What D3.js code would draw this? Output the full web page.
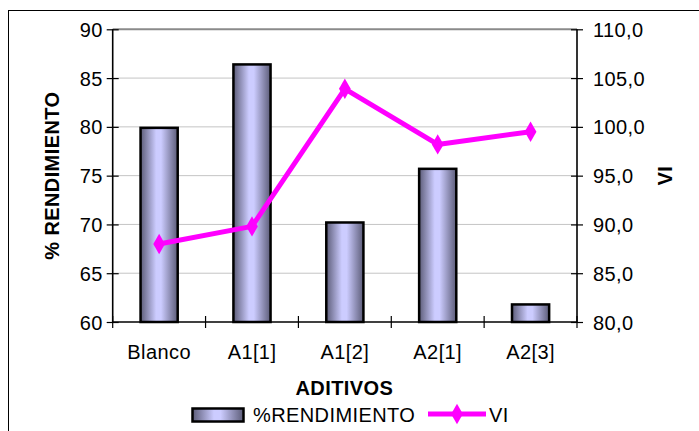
<!DOCTYPE html>
<html>
<head>
<meta charset="utf-8">
<script src="https://cdn.jsdelivr.net/npm/d3@7"></script>
<style>
  html, body { margin: 0; padding: 0; background: #fff; }
  svg { display: block; font-family: "Liberation Sans", Arial, sans-serif; }
  svg text { letter-spacing: 0.4px; }
</style>
</head>
<body>
<svg id="chart" width="699" height="431"></svg>
<script>
// Additive categories and their measured values
const categories = ["Blanco", "A1[1]", "A1[2]", "A2[1]", "A2[3]"];
const rendimiento = [79.9, 86.4, 70.2, 75.7, 61.8];
const vi = [88.0, 89.8, 103.9, 98.2, 99.5];
const leftTicks = [60, 65, 70, 75, 80, 85, 90];
const rightTicks = [80, 85, 90, 95, 100, 105, 110];

const svg = d3.select("#chart");
const plot = { left: 112.7, right: 577, top: 29.3, bottom: 322 };

const x = d3.scaleBand().domain(categories).range([plot.left, plot.right]).padding(0);
const yL = d3.scaleLinear().domain([60, 90]).range([plot.bottom, plot.top]);
const yR = d3.scaleLinear().domain([80, 110]).range([plot.bottom, plot.top]);

// Bar fill: dark edges, pale lavender centre
const defs = svg.append("defs");
const grad = defs.append("linearGradient").attr("id", "barGrad")
  .attr("x1", "0").attr("x2", "1").attr("y1", "0").attr("y2", "0");
grad.append("stop").attr("offset", "0%").attr("stop-color", "#5c5c78");
grad.append("stop").attr("offset", "42%").attr("stop-color", "#ccccff");
grad.append("stop").attr("offset", "55%").attr("stop-color", "#ccccff");
grad.append("stop").attr("offset", "100%").attr("stop-color", "#5c5c78");

// Outer chart frame
svg.append("rect").attr("x", 8.5).attr("y", 10.5)
  .attr("width", 720).attr("height", 440)
  .attr("fill", "none").attr("stroke", "#000").attr("stroke-width", 1);

// Horizontal gridlines
svg.append("g").selectAll("line").data(leftTicks.filter(t => t > 60)).join("line")
  .attr("x1", plot.left).attr("x2", plot.right)
  .attr("y1", d => yL(d)).attr("y2", d => yL(d))
  .attr("stroke", d => d === 90 ? "#8a8a8a" : "#c4c4c4")
  .attr("stroke-width", d => d === 90 ? 2 : 1);

// Bars
const bw = x.step() * 0.4;
svg.append("g").selectAll("rect").data(categories).join("rect")
  .attr("x", d => x(d) + x.bandwidth() / 2 - bw / 2)
  .attr("width", bw)
  .attr("y", (d, i) => yL(rendimiento[i]))
  .attr("height", (d, i) => yL(60) - yL(rendimiento[i]))
  .attr("fill", "url(#barGrad)")
  .attr("stroke", "#000").attr("stroke-width", 2.5);

// Left axis
const leftAxis = d3.axisLeft(yL).tickValues(leftTicks).tickSize(0).tickPadding(0).tickFormat(d3.format("d"));
const gL = svg.append("g").attr("transform", `translate(${plot.left},0)`).call(leftAxis);
gL.select(".domain").remove();
gL.selectAll(".tick text").remove();
gL.selectAll(".tick").append("line").attr("x1", -6).attr("x2", 6).attr("stroke", "#000").attr("stroke-width", 1.2);
gL.selectAll(".tick").append("text")
  .attr("x", -10).attr("dy", "0.35em").attr("text-anchor", "end")
  .attr("fill", "#000").style("font-size", "20px")
  .text(d => d3.format("d")(d));
svg.append("line").attr("x1", plot.left).attr("x2", plot.left)
  .attr("y1", plot.top).attr("y2", plot.bottom)
  .attr("stroke", "#000").attr("stroke-width", 1.6);

// Right axis
const rightAxis = d3.axisRight(yR).tickValues(rightTicks).tickSize(0);
const gR = svg.append("g").attr("transform", `translate(${plot.right},0)`).call(rightAxis);
gR.select(".domain").remove();
gR.selectAll(".tick text").remove();
gR.selectAll(".tick").append("line").attr("x1", -6).attr("x2", 6).attr("stroke", "#000").attr("stroke-width", 1.2);
gR.selectAll(".tick").append("text")
  .attr("x", 16).attr("dy", "0.35em").attr("text-anchor", "start")
  .attr("fill", "#000").style("font-size", "20px")
  .text(d => d3.format(".1f")(d).replace(".", ","));
svg.append("line").attr("x1", plot.right).attr("x2", plot.right)
  .attr("y1", plot.top).attr("y2", plot.bottom)
  .attr("stroke", "#000").attr("stroke-width", 1.6);

// Category axis
const bottomAxis = d3.axisBottom(x).tickSize(0);
const gB = svg.append("g").attr("transform", `translate(0,${plot.bottom})`).call(bottomAxis);
gB.select(".domain").remove();
gB.selectAll(".tick text").remove();
gB.selectAll(".tick").append("text")
  .attr("y", 37).attr("text-anchor", "middle")
  .attr("fill", "#000").style("font-size", "20px")
  .text(d => d);
const bounds = categories.map(c => x(c)).concat([x(categories[categories.length - 1]) + x.step()]);
svg.append("g").selectAll("line").data(bounds).join("line")
  .attr("x1", d => d).attr("x2", d => d)
  .attr("y1", plot.bottom - 6).attr("y2", plot.bottom + 6)
  .attr("stroke", "#000").attr("stroke-width", 1.2);
svg.append("line").attr("x1", plot.left).attr("x2", plot.right)
  .attr("y1", plot.bottom).attr("y2", plot.bottom)
  .attr("stroke", "#000").attr("stroke-width", 1.6);

// VI line with diamond markers
const line = d3.line()
  .x((d, i) => x(categories[i]) + x.bandwidth() / 2)
  .y(d => yR(d));
svg.append("path").datum(vi).attr("d", line)
  .attr("fill", "none").attr("stroke", "#ff00ff").attr("stroke-width", 5)
  .attr("stroke-linejoin", "round");
const diamond = d3.symbol().type(d3.symbolDiamond).size(120);
svg.append("g").selectAll("path").data(vi).join("path")
  .attr("d", diamond)
  .attr("transform", (d, i) => `translate(${x(categories[i]) + x.bandwidth() / 2},${yR(d)})`)
  .attr("fill", "#ff00ff");

// Axis titles
svg.append("text")
  .attr("transform", `translate(59,${(plot.top + plot.bottom) / 2}) rotate(-90)`)
  .attr("text-anchor", "middle").style("font-size", "20px").style("font-weight", "bold")
  .text("% RENDIMIENTO");
svg.append("text")
  .attr("transform", `translate(672,${(plot.top + plot.bottom) / 2}) rotate(-90)`)
  .attr("text-anchor", "middle").style("font-size", "20px").style("font-weight", "bold")
  .text("VI");
svg.append("text")
  .attr("x", (plot.left + plot.right) / 2 - 0.5).attr("y", 395)
  .attr("text-anchor", "middle").style("font-size", "20px").style("font-weight", "bold")
  .text("ADITIVOS");

// Legend
const lg = svg.append("g");
lg.append("rect").attr("x", 192.5).attr("y", 408.5).attr("width", 51).attr("height", 13)
  .attr("fill", "url(#barGrad)").attr("stroke", "#000").attr("stroke-width", 2.5);
lg.append("text").attr("x", 253).attr("y", 422).style("font-size", "20px").text("%RENDIMIENTO");
lg.append("line").attr("x1", 428).attr("x2", 486).attr("y1", 414).attr("y2", 414)
  .attr("stroke", "#ff00ff").attr("stroke-width", 5);
lg.append("path").attr("d", diamond).attr("transform", "translate(457,414)").attr("fill", "#ff00ff");
lg.append("text").attr("x", 489).attr("y", 422).style("font-size", "20px").text("VI");
</script>
</body>
</html>
